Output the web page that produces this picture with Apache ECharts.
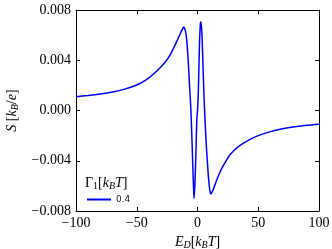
<!DOCTYPE html>
<html>
<head>
<meta charset="utf-8">
<script src="https://cdn.jsdelivr.net/npm/echarts@6/dist/echarts.min.js"></script>
<style>
html,body{margin:0;padding:0;background:#fff;}
#c{width:332px;height:249px;}
</style>
</head>
<body>
<div id="c"></div>
<script>
// Data
var energies = [-100, -90, -80, -70, -60, -50, -45, -40, -35, -30, -26, -23, -20, -18, -16, -14, -13, -12, -11.4, -10.5, -9.5, -8.5, -7.5, -6.5, -5.5, -4.5, -4, -3.5, -2.9, -2.3, -1.8, -1.2, -0.6, 0, 0.6, 1.2, 1.8, 2.3, 2.6, 3.0, 3.6, 4.2, 4.8, 5.4, 6.0, 6.7, 7.4, 8.2, 9.0, 9.8, 10.3, 10.8, 11.4, 12, 13, 14, 16, 18, 20, 23, 26, 30, 35, 40, 45, 50, 60, 70, 80, 90, 100];
var seebeck = [0.00110, 0.00119, 0.00131, 0.00147, 0.00170, 0.00203, 0.00228, 0.00260, 0.00300, 0.00348, 0.00392, 0.00435, 0.00490, 0.00530, 0.00572, 0.00615, 0.00636, 0.00656, 0.00664, 0.00650, 0.00612, 0.00520, 0.00370, 0.00190, 0.00020, -0.00250, -0.00400, -0.00550, -0.00700, -0.00620, -0.00490, -0.00300, -0.00080, 0.00000, 0.00120, 0.00360, 0.00580, 0.00680, 0.00707, 0.00690, 0.00620, 0.00460, 0.00280, 0.00100, -0.00030, -0.00180, -0.00300, -0.00420, -0.00530, -0.00610, -0.00642, -0.00665, -0.00660, -0.00648, -0.00628, -0.00602, -0.00550, -0.00502, -0.00460, -0.00410, -0.00362, -0.00318, -0.00278, -0.00248, -0.00222, -0.00200, -0.00168, -0.00146, -0.00130, -0.00118, -0.00110];
var seriesName = '0.4';
var xTicks = [-100, -50, 0, 50, 100];
var yTicks = [-0.008, -0.004, 0.000, 0.004, 0.008];
var xTickLabels = ['\u2212100', '\u221250', '0', '50', '100'];
var yTickLabels = ['\u22120.008', '\u22120.004', '0.000', '0.004', '0.008'];

function labelFor(ticks, labels) {
  return function (v) {
    for (var i = 0; i < ticks.length; i++) {
      if (Math.abs(ticks[i] - v) < 1e-9) return labels[i];
    }
    return '';
  };
}

var pts = energies.map(function (x, i) { return [x, seebeck[i]]; });
var serif = '"Liberation Serif", "DejaVu Serif", serif';

var chart = echarts.init(document.getElementById('c'), null, {renderer: 'canvas'});
var axisLine = {show: true, onZero: false, lineStyle: {color: '#000', width: 1}};
var tick = {show: true, inside: true, length: 4, lineStyle: {color: '#000', width: 1}};
var mainRich = {
  i: {fontFamily: serif, fontStyle: 'italic', fontWeight: 'normal', fontSize: 14, color: '#000'},
  n: {fontFamily: serif, fontWeight: 'normal', fontSize: 14, color: '#000'},
  sub: {fontFamily: serif, fontStyle: 'italic', fontWeight: 'normal', fontSize: 10, color: '#000', verticalAlign: 'bottom', padding: [6, 0, 0, 0]},
  subn: {fontFamily: serif, fontWeight: 'normal', fontSize: 10, color: '#000', verticalAlign: 'bottom', padding: [6, 0, 0, 0]}
};

chart.setOption({
  animation: false,
  backgroundColor: '#fff',
  grid: {left: 76, right: 13, top: 10, bottom: 38, containLabel: false, outerBoundsMode: 'none'},
  title: {
    text: '{n|\u0393}{subn|1}{n|[}{i|k}{sub|B}{i|T}{n|]}',
    left: 80, top: 170,
    textStyle: {fontWeight: 'normal', rich: mainRich}
  },
  legend: {
    show: true,
    left: 82, top: 190,
    itemWidth: 24, itemHeight: 2,
    itemGap: 6,
    textStyle: {fontFamily: '"DejaVu Sans", sans-serif', fontSize: 9, color: '#222'},
    data: [{name: seriesName, icon: 'rect'}]
  },
  xAxis: [{
    type: 'value', min: -100, max: 100, interval: 50,
    axisLine: axisLine, axisTick: tick, splitLine: {show: false},
    axisLabel: {formatter: labelFor(xTicks, xTickLabels), margin: 5, fontFamily: serif, fontSize: 14, color: '#000'},
    name: '{i|E}{sub|D}{n|[}{i|k}{sub|B}{i|T}{n|]}',
    nameLocation: 'middle', nameGap: 21,
    nameTextStyle: {rich: mainRich}
  }, {
    type: 'value', position: 'top', min: -100, max: 100, interval: 50,
    axisLine: axisLine, axisTick: tick, splitLine: {show: false}, axisLabel: {show: false}
  }],
  yAxis: [{
    type: 'value', min: -0.008, max: 0.008, interval: 0.004,
    axisLine: axisLine, axisTick: tick, splitLine: {show: false},
    axisLabel: {formatter: labelFor(yTicks, yTickLabels), margin: 5, fontFamily: serif, fontSize: 14, color: '#000'},
    name: '{i|S}{n| [}{i|k}{sub|B}{n|/}{i|e}{n|]}',
    nameLocation: 'middle', nameGap: 53, nameRotate: 90,
    nameTextStyle: {rich: mainRich}
  }, {
    type: 'value', position: 'right', min: -0.008, max: 0.008, interval: 0.004,
    axisLine: axisLine, axisTick: tick, splitLine: {show: false}, axisLabel: {show: false}
  }],
  series: [{
    name: seriesName,
    type: 'line',
    data: pts,
    symbol: 'none',
    smooth: 0.2,
    lineStyle: {color: '#0000ff', width: 1.5},
    itemStyle: {color: '#0000ff'}
  }]
});
</script>
</body>
</html>
